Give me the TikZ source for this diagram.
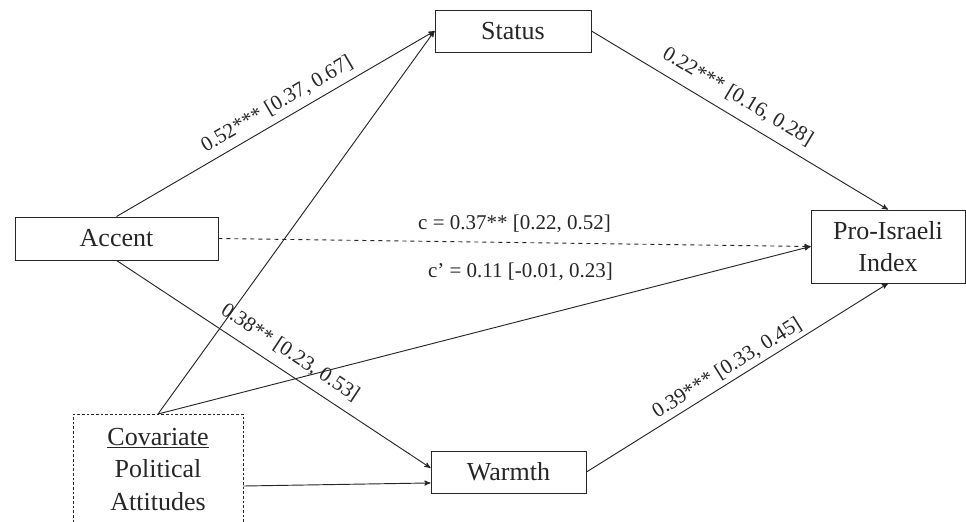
\documentclass[tikz,border=0pt]{standalone}
\usepackage{fontspec}
\setmainfont{Liberation Serif}
\usetikzlibrary{arrows,calc,positioning}
\tikzset{
  varbox/.style={draw,rectangle,inner sep=0pt,align=center,font=\fontsize{19.5}{24.4}\selectfont},
  coef/.style={font=\fontsize{15.75}{19}\selectfont,inner sep=3pt},
}
\begin{document}
\begin{tikzpicture}[x=0.75pt,y=-0.75pt,->,>=stealth',line width=0.7pt,color=black!85]
            \clip (0,0) rectangle (966,521);
            \node[varbox,minimum width=117pt,minimum height=31.5pt] (status) at (513,31) {Status};
            \node[varbox,minimum width=152.25pt,minimum height=32.25pt] (accent) at (116.5,238.5) {Accent};
            \node[varbox,minimum width=115.5pt,minimum height=54.75pt] (israeli) at (888,246.5) {Pro-Israeli\\Index};
            \node[varbox,minimum width=116.25pt,minimum height=31.5pt] (warmth) at (508.5,472) {Warmth};
            \node[varbox,dash pattern=on 2pt off 1.5pt,anchor=north,minimum width=127.5pt,inner ysep=10pt,text depth=8pt] (covar) at (158,414) {\underline{Covariate}\\Political\\Attitudes};
            \coordinate (covarout) at ($(covar.north east)+(0,72)$);
            % paths to the mediators
            \path (accent.north) edge node[coef,above=2pt,sloped,pos=0.53] (lblas) {0.52*** [0.37, 0.67]} (status.west);
            \path (accent.south) edge node[coef,above=4pt,sloped,pos=0.52] (lblaw) {0.38** [0.23, 0.53]} (warmth.177);
            % paths to the outcome
            \path (status.east) edge node[coef,above=4.5pt,sloped,pos=0.46] (lblsi) {0.22*** [0.16, 0.28]} (israeli.north);
            \path (warmth.east) edge node[coef,above,sloped,pos=0.49] (lblwi) {0.39*** [0.33, 0.45]} (israeli.south);
            \path (accent.east) edge [dashed] node[coef,above=4pt] (lblc) {c = 0.37** [0.22, 0.52]} node[coef,below=12pt,xshift=4.5pt] (lblcp) {c’ = 0.11 [-0.01, 0.23]} (israeli.west);
            % covariate
            \path (covar.north) edge (status.west);
            \path (covar.north) edge (israeli.west);
            \path (covarout) edge (warmth.188);
        \end{tikzpicture}
\end{document}
